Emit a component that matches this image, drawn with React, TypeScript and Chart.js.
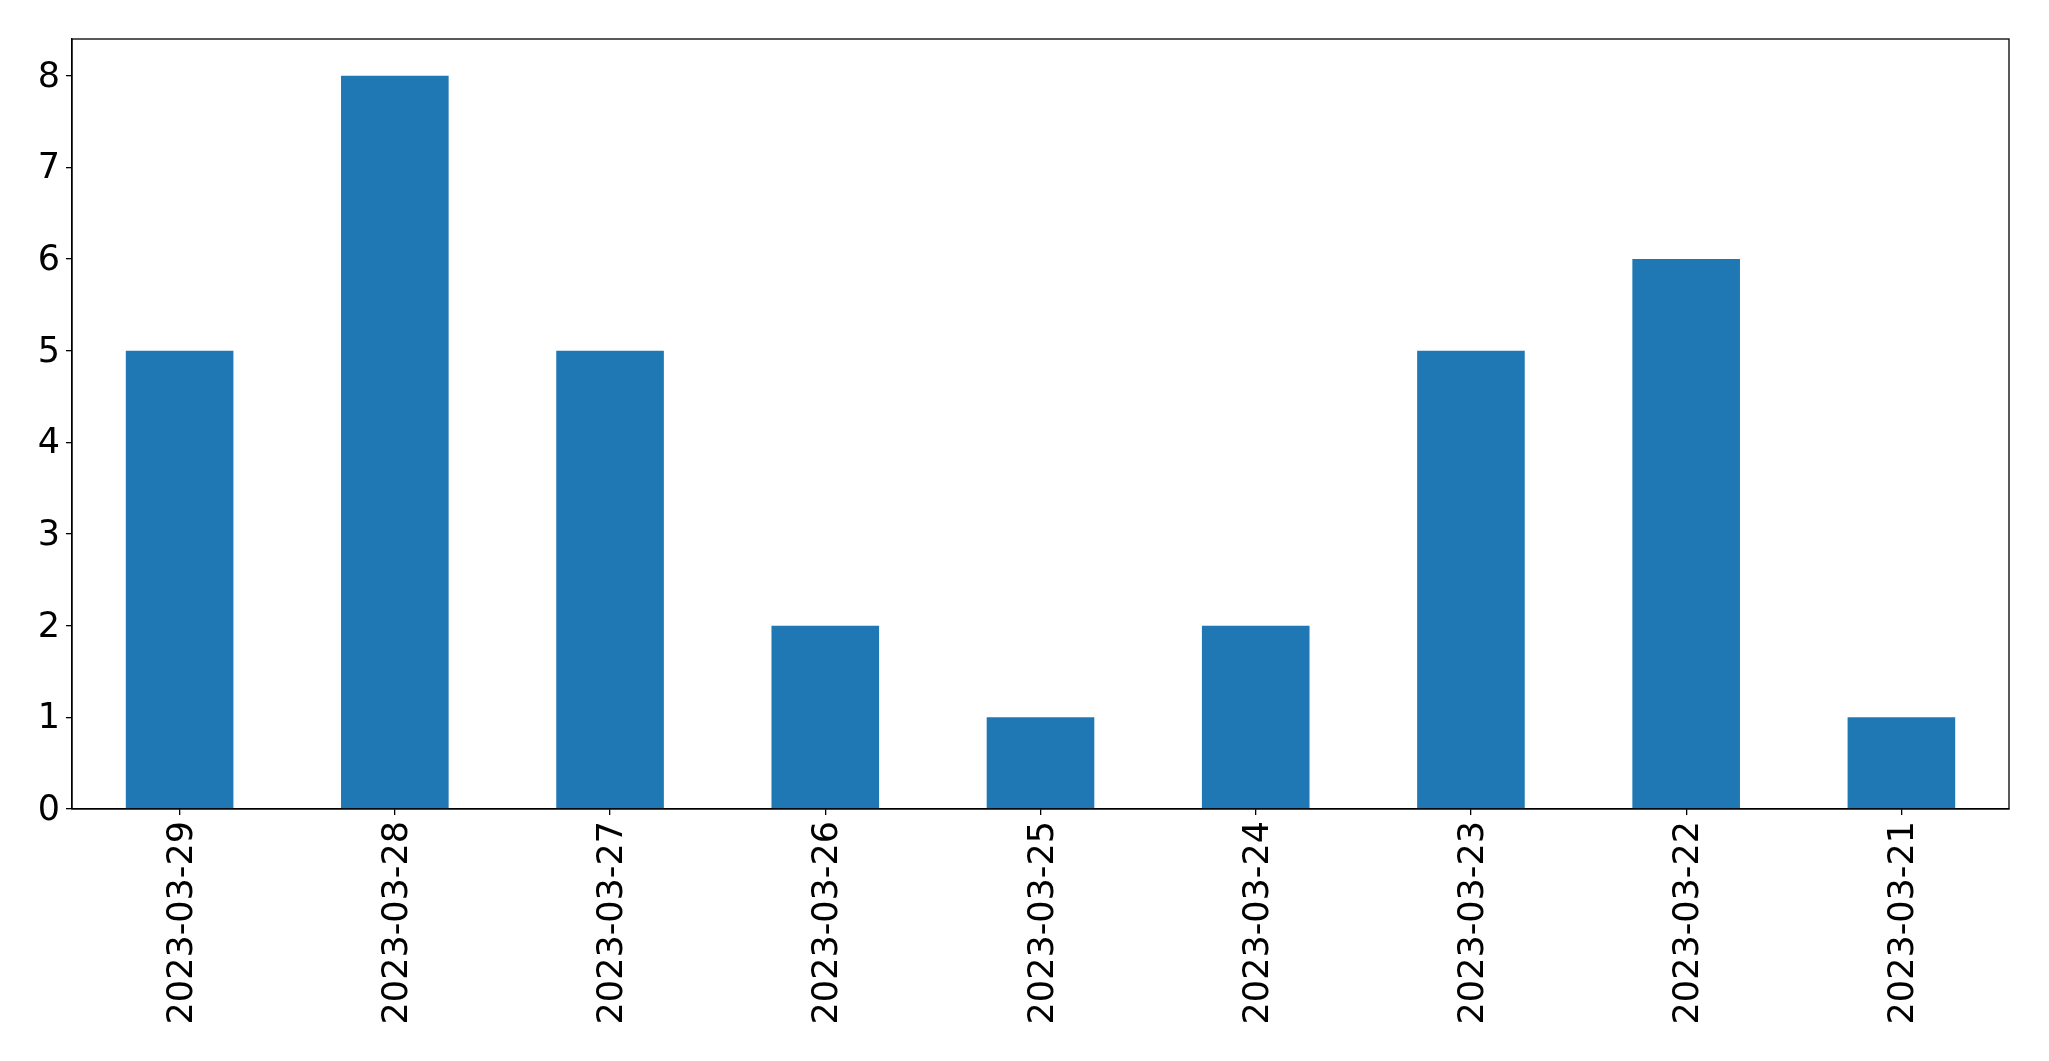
import React, { useEffect, useRef } from "react";
import { Chart, registerables } from "chart.js";

Chart.register(...registerables);

const categories = [
  "2023-03-29",
  "2023-03-28",
  "2023-03-27",
  "2023-03-26",
  "2023-03-25",
  "2023-03-24",
  "2023-03-23",
  "2023-03-22",
  "2023-03-21",
];
const counts = [5, 8, 5, 2, 1, 2, 5, 6, 1];
const yTicks = [0, 1, 2, 3, 4, 5, 6, 7, 8];
const yMax = 8.4;

const FONT = "'DejaVu Sans', sans-serif";

const framePlugin = {
  id: "frame",
  afterDraw(chart: any) {
    const { ctx, chartArea } = chart;
    ctx.save();
    ctx.strokeStyle = "#000";
    ctx.lineWidth = 1.3;
    ctx.strokeRect(chartArea.left, chartArea.top, chartArea.right - chartArea.left, chartArea.bottom - chartArea.top);
    ctx.restore();
  },
};

export default function App() {
  const ref = useRef<HTMLCanvasElement | null>(null);

  useEffect(() => {
    if (!ref.current) return;
    const chart = new Chart(ref.current, {
      type: "bar",
      data: {
        labels: categories,
        datasets: [
          {
            data: counts,
            backgroundColor: "#1f77b4",
            barPercentage: 0.5,
            categoryPercentage: 1,
          },
        ],
      },
      options: {
        animation: false,
        responsive: false,
        maintainAspectRatio: false,
        layout: { padding: { top: 39, right: 40, left: 0, bottom: 0 } },
        plugins: { legend: { display: false }, tooltip: { enabled: false } },
        scales: {
          x: {
            offset: true,
            grid: { offset: false, drawOnChartArea: false, drawTicks: true, tickLength: 6, color: "#000", lineWidth: 1.3 },
            border: { display: true, color: "#000", width: 1.3 },
            ticks: {
              color: "#000",
              font: { family: FONT, size: 35 },
              minRotation: 90,
              maxRotation: 90,
              padding: 6,
              labelOffset: 3,
              autoSkip: false,
            },
            afterFit(scale: any) {
              scale.height = 252;
            },
          },
          y: {
            min: 0,
            max: yMax,
            grid: { drawOnChartArea: false, drawTicks: true, tickLength: 6, color: "#000", lineWidth: 1.3 },
            border: { display: true, color: "#000", width: 1.3 },
            ticks: {
              color: "#000",
              font: { family: FONT, size: 35 },
              padding: 6,
              labelOffset: 2,
            },
            afterBuildTicks(scale: any) {
              scale.ticks = yTicks.map((v) => ({ value: v }));
            },
            afterFit(scale: any) {
              scale.width = 72;
            },
          },
        },
      },
      plugins: [framePlugin],
    });
    return () => chart.destroy();
  }, []);

  return (
    <div style={{ position: "fixed", left: 0, top: 0, width: 2049, height: 1061, background: "#fff" }}>
      <canvas ref={ref} width={2049} height={1061} style={{ width: 2049, height: 1061 }} />
    </div>
  );
}
